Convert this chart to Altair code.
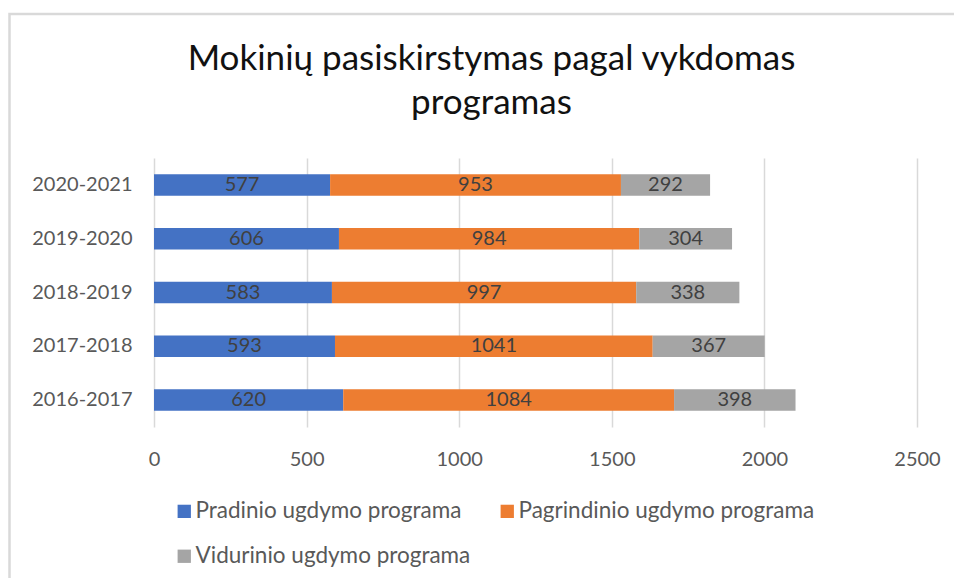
import altair as alt
import pandas as pd

years = ["2020-2021", "2019-2020", "2018-2019", "2017-2018", "2016-2017"]
programs = ["Pradinio ugdymo programa", "Pagrindinio ugdymo programa", "Vidurinio ugdymo programa"]
pradinio = [577, 606, 583, 593, 620]
pagrindinio = [953, 984, 997, 1041, 1084]
vidurinio = [292, 304, 338, 367, 398]
colors = ["#4472C4", "#ED7D31", "#A5A5A5"]
x_ticks = [0, 500, 1000, 1500, 2000, 2500]
title_lines = ["Mokinių pasiskirstymas pagal vykdomas", "programas"]

rows = []
for i, yr in enumerate(years):
    for j, vals in enumerate([pradinio, pagrindinio, vidurinio]):
        rows.append({"year": yr, "program": programs[j], "value": vals[i], "order": j})
df = pd.DataFrame(rows)

FONT = "Lato"

base = alt.Chart(df).transform_stack(
    stack="value", groupby=["year"], sort=[alt.SortField("order")], as_=["x0", "x1"]
).transform_calculate(mid="(datum.x0 + datum.x1) / 2")

y_enc = alt.Y(
    "year:N", sort=years, title=None,
    scale=alt.Scale(paddingInner=0.6, paddingOuter=0.3),
    axis=alt.Axis(domain=False, ticks=False, labelFont=FONT, labelFontSize=20,
                  labelColor="#595959", labelPadding=22),
)

bars = base.mark_bar().encode(
    x=alt.X("x0:Q", title=None, scale=alt.Scale(domain=[0, 2500], nice=False),
            axis=alt.Axis(values=x_ticks, format="d", domain=False, ticks=False, grid=True,
                          gridColor="#d9d9d9", gridWidth=1.5, labelFont=FONT,
                          labelFontSize=20, labelColor="#595959", labelPadding=22,
                          labelFlush=False)),
    x2="x1:Q",
    y=y_enc,
    color=alt.Color("program:N", scale=alt.Scale(domain=programs, range=colors),
                    legend=alt.Legend(title=None, orient="none", legendX=19, legendY=342,
                                      direction="horizontal", columns=2,
                                      columnPadding=25, rowPadding=22,
                                      symbolType="square", symbolSize=177,
                                      symbolStrokeWidth=0, labelOffset=0,
                                      labelFont=FONT, labelFontSize=22.5,
                                      labelColor="#595959", labelLimit=0)),
    order=alt.Order("order:Q"),
)

labels = base.mark_text(font=FONT, fontSize=20, color="#404040").encode(
    x="mid:Q",
    y=alt.Y("year:N", sort=years),
    text="value:Q",
)

border = alt.Chart(pd.DataFrame({"a": [0]})).mark_rect(
    fillOpacity=0, stroke="#d9d9d9", strokeWidth=2.5
).encode(
    x=alt.value(-144.5), x2=alt.value(1200), y=alt.value(-144), y2=alt.value(900)
)

chart = alt.layer(border, bars, labels).properties(
    width=763, height=269,
    padding={"left": 146, "top": 150, "right": 37, "bottom": 151},
    autosize=alt.AutoSizeParams(type="none"),
    title=alt.TitleParams(text=title_lines, font=FONT, fontSize=35, fontWeight="normal",
                          color="#111111", anchor="middle", frame="group", dx=-44,
                          offset=-136, baseline="alphabetic", lineHeight=44),
).configure_view(stroke=None)

chart.save("out.html", embed_options={"renderer": "svg", "actions": False})
